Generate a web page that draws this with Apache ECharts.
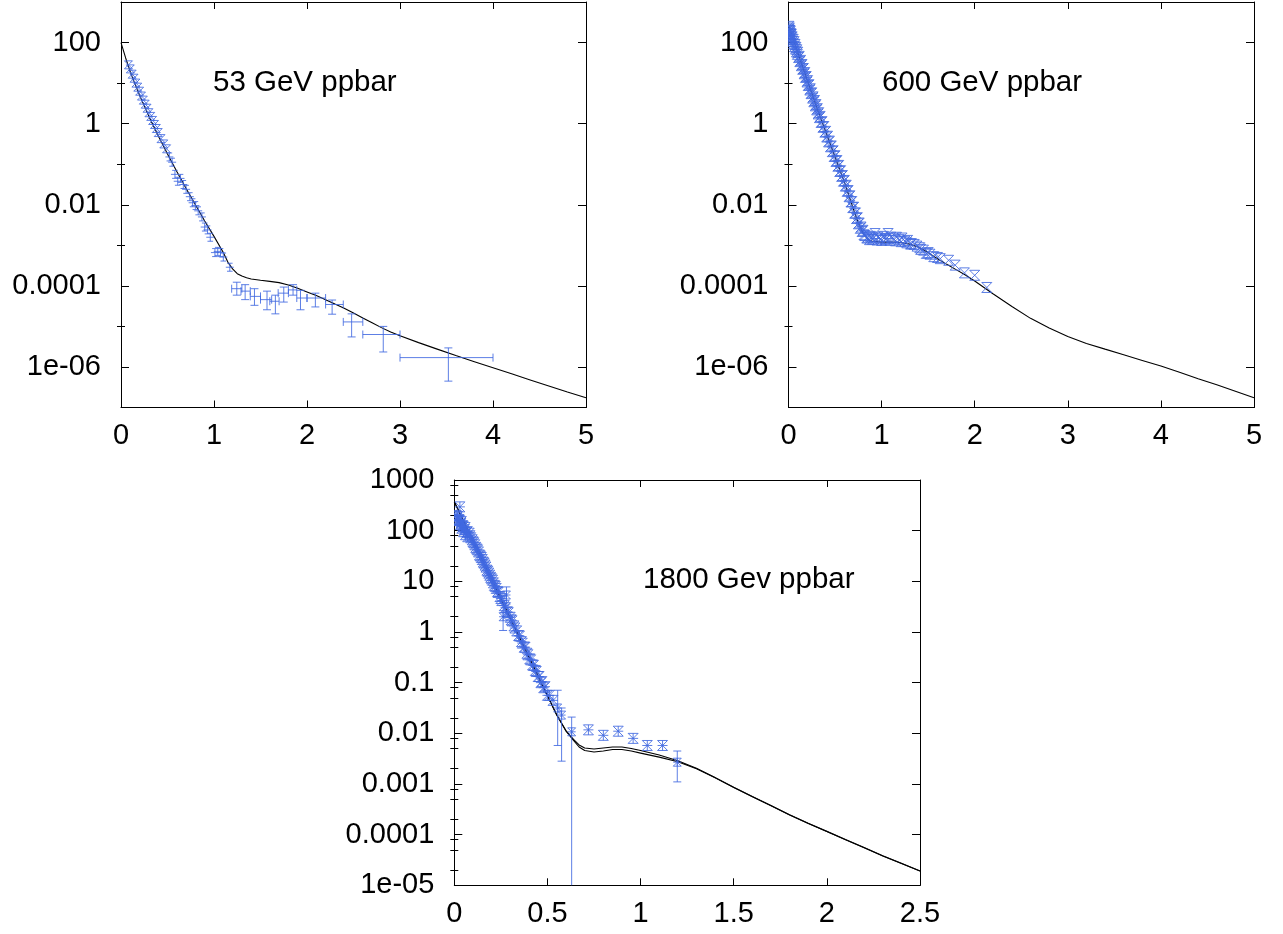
<!DOCTYPE html>
<html><head><meta charset="utf-8">
<script src="https://cdn.jsdelivr.net/npm/echarts@6/dist/echarts.min.js"></script>
<style>html,body{margin:0;padding:0;background:#fff}#c{width:1283px;height:934px}</style>
</head><body><div id="c"></div>
<script>
// ---------- 53 GeV ppbar ----------
const curve53T = [0,0.05,0.1,0.15,0.2,0.3,0.4,0.5,0.6,0.7,0.8,0.9,1.0,1.1,1.15,1.2,1.25,1.3,1.35,1.4,1.5,1.6,1.7,1.8,1.9,2.0,2.1,2.2,2.3,2.4,2.5,2.6,2.7,2.8,2.9,3.0,3.2,3.4,3.6,3.8,4.0,4.2,4.4,4.6,4.8,5.0];
const curve53Y = [100,41.7,19.1,9.55,5.01,1.51,0.501,0.178,0.0661,0.0251,0.01,3.98e-3,1.66e-3,6.61e-4,3.8e-4,2.63e-4,2.0e-4,1.74e-4,1.58e-4,1.48e-4,1.38e-4,1.29e-4,1.2e-4,1.05e-4,8.7e-5,7.08e-5,5.75e-5,4.57e-5,3.55e-5,2.82e-5,2.14e-5,1.62e-5,1.23e-5,9.33e-6,7.24e-6,5.89e-6,3.98e-6,2.75e-6,1.91e-6,1.35e-6,9.55e-7,6.76e-7,4.79e-7,3.39e-7,2.4e-7,1.74e-7];
const pts53aT = [0.08,0.10,0.12,0.14,0.16,0.18,0.20,0.22,0.24,0.26,0.28,0.30,0.32,0.34,0.36,0.38,0.40,0.43,0.46,0.49];
const pts53aY = [28.2,22.4,16.6,13.2,10.0,7.94,6.31,4.79,3.80,3.02,2.40,1.86,1.51,1.20,0.955,0.759,0.603,0.427,0.316,0.24];
const pts53bT = [0.52,0.55,0.58,0.61,0.64,0.67,0.70,0.74,0.77,0.80,0.83,0.87,0.90,0.93,0.96,1.01,1.04,1.07,1.10,1.17];
const pts53bY = [0.151,0.112,0.0562,0.038,0.0447,0.0316,0.024,0.0158,0.0112,0.00955,0.00708,0.00501,0.00282,0.0024,0.00158,0.000661,0.000708,0.000661,0.000513,0.000288];
const tail53T   = [1.245,1.335,1.435,1.57,1.66,1.75,1.85,1.93,2.09,2.27,2.48,2.82,3.52];
const tail53Y   = [8.51e-5,7.41e-5,5.5e-5,4.57e-5,4.17e-5,6.61e-5,7.94e-5,5.01e-5,5.01e-5,3.47e-5,1.29e-5,6.31e-6,1.70e-6];
const tail53Lo  = [5.89e-5,4.57e-5,3.31e-5,2.57e-5,2.04e-5,3.98e-5,5.89e-5,2.57e-5,3.02e-5,2.0e-5,5.5e-6,2.34e-6,4.47e-7];
const tail53Hi  = [1.23e-4,1.07e-4,8.51e-5,7.41e-5,5.89e-5,9.33e-5,1.07e-4,7.76e-5,6.61e-5,4.47e-5,2.04e-5,1.0e-5,2.95e-6];
const tail53TLo = [1.19,1.29,1.39,1.50,1.60,1.69,1.80,1.89,2.00,2.20,2.39,2.60,3.00];
const tail53THi = [1.30,1.39,1.50,1.62,1.70,1.80,1.89,2.00,2.20,2.39,2.60,3.00,4.00];

// ---------- 600 GeV ppbar ----------
const curve600T = [0,0.1,0.2,0.3,0.4,0.5,0.6,0.66,0.7,0.75,0.8,0.85,0.9,1.0,1.1,1.2,1.3,1.4,1.5,1.6,1.7,1.8,1.9,2.0,2.2,2.4,2.6,2.8,3.0,3.2,3.4,3.6,3.8,4.0,4.2,4.4,4.6,4.8,5.0];
const curve600Y = [269,56.2,12.0,2.63,0.631,0.151,0.0363,0.0141,0.00741,0.00355,0.002,0.00141,0.00126,0.0012,0.0012,0.00117,0.00107,0.000891,0.000661,0.000468,0.000339,0.000251,0.000186,0.000132,6.31e-5,3.09e-5,1.58e-5,9.12e-6,5.62e-6,3.8e-6,2.75e-6,2.0e-6,1.45e-6,1.05e-6,7.41e-7,5.13e-7,3.63e-7,2.51e-7,1.74e-7];
const pts600T = [0.005,0.010,0.015,0.020,0.025,0.030,0.040,0.050,0.060,0.070,0.080,0.090,0.100,0.115,0.130,0.145,0.160,0.175,0.190,0.205,0.220,0.235,0.250,0.265,0.280,0.295,0.310,0.325,0.340,0.360,0.380,0.400,0.420,0.440,0.460,0.480,0.500,0.520,0.540,0.560,0.580,0.600,0.620,0.640,0.660,0.680,0.700,0.720,0.740,0.760,0.780,0.800,0.82,0.85,0.88,0.91,0.93,0.96,0.99,1.02,1.05,1.07,1.10,1.13,1.16,1.19,1.22,1.25,1.28,1.32,1.35,1.38,1.42,1.45,1.48,1.52,1.56,1.63,1.72,1.79,1.89,2.00,2.13];
const pts600Y = [251,229,200,191,166,158,138,120,105,89.1,75.9,66.1,57.5,45.7,36.3,28.8,22.9,18.2,14.5,11.5,9.12,7.24,5.75,4.57,3.72,2.95,2.34,1.86,1.51,1.12,0.851,0.646,0.49,0.372,0.282,0.214,0.162,0.123,0.0933,0.0692,0.0525,0.0398,0.0302,0.0224,0.0166,0.012,0.0087,0.0063,0.00479,0.00355,0.00282,0.00234,0.00174,0.00158,0.00166,0.00151,0.00195,0.00158,0.00145,0.00166,0.00148,0.00195,0.00158,0.00145,0.00158,0.00138,0.00151,0.00126,0.00132,0.0011,0.00105,0.000955,0.000794,0.000759,0.000631,0.000603,0.000525,0.000468,0.000427,0.000324,0.000209,0.000182,0.0000912];
const pts600bT = [0.002,0.008,0.012,0.018,0.022,0.028,0.035,0.045,0.055,0.065,0.075,0.085,0.095,0.108,0.122,0.138,0.152,0.168,0.182,0.198,0.212,0.228,0.242,0.258,0.272,0.288,0.302,0.318,0.332,0.35,0.37,0.39,0.41,0.43,0.45,0.47,0.49,0.51,0.53,0.55,0.57,0.59,0.61,0.63,0.65,0.67,0.69,0.71,0.73,0.75,0.77,0.79,0.81,0.84,0.87,0.90,0.95,1.00,1.04,1.09,1.15,1.21,1.27,1.31,1.41,1.50,1.60];
const pts600bY = [214,200,182,162,148,138,123,107,93.3,79.4,69.2,58.9,51.3,42.7,33.9,26.9,21.9,17.0,13.8,10.7,8.71,6.76,5.5,4.27,3.47,2.75,2.19,1.74,1.41,1.07,0.813,0.617,0.468,0.355,0.269,0.204,0.155,0.117,0.0891,0.0661,0.0501,0.038,0.0288,0.0214,0.0158,0.0117,0.0085,0.00617,0.00457,0.00339,0.00263,0.00219,0.00182,0.00151,0.00138,0.00141,0.00135,0.00132,0.00138,0.00132,0.00129,0.00123,0.00115,0.00107,0.000871,0.000661,0.000501];

// ---------- 1800 GeV ppbar ----------
const curve1800T  = [0,0.1,0.2,0.3,0.4,0.5,0.55,0.6,0.64,0.67,0.7,0.75,0.8,0.85,0.9,0.95,1.0,1.1,1.2,1.3,1.4,1.5,1.6,1.7,1.8,1.9,2.0,2.1,2.2,2.3,2.4,2.5];
const curve1800Ya = [372,63.1,11.0,1.86,0.324,0.055,0.0229,0.011,0.00724,0.00537,0.00457,0.00427,0.00447,0.00479,0.00479,0.00447,0.00407,0.00339,0.00275,0.002,0.00132,0.000851,0.000562,0.000372,0.000245,0.000166,0.000115,7.94e-5,5.5e-5,3.8e-5,2.69e-5,1.91e-5];
const curve1800Yb = [372,63.1,11.0,1.86,0.324,0.055,0.0229,0.0112,0.00759,0.00589,0.00513,0.0049,0.00513,0.00537,0.00537,0.00501,0.00457,0.00372,0.00288,0.00204,0.00134,0.000862,0.000568,0.000376,0.000248,0.000168,0.000116,8.0e-5,5.55e-5,3.83e-5,2.71e-5,1.92e-5];
const pts1800T = [0.015,0.020,0.025,0.030,0.032,0.036,0.040,0.045,0.050,0.055,0.060,0.066,0.072,0.080,0.088,0.096,0.105,0.115,0.125,0.135,0.145,0.155,0.165,0.175,0.185,0.195,0.205,0.215,0.225,0.235,0.245,0.255,0.275,0.290,0.300,0.310,0.320,0.335,0.350,0.365,0.380,0.395,0.410,0.425,0.440,0.455,0.470,0.487,0.510,0.530,0.720,0.800,0.880,0.960,1.036,1.118];
const pts1800Y = [178,158,166,295,132,141,112,126,95.5,105,83.2,93.3,75.9,89.1,72.4,66.1,57.5,46.8,41.7,33.1,29.5,24.0,20.9,16.6,14.5,12.0,10.5,8.32,7.24,6.03,5.01,4.17,3.02,2.40,1.95,1.66,1.32,1.05,0.832,0.603,0.501,0.355,0.282,0.219,0.166,0.132,0.105,0.0832,0.0562,0.0447,0.0117,0.00912,0.011,0.00794,0.00575,0.00575];
const pts1800bT = [0.010,0.018,0.028,0.038,0.048,0.058,0.070,0.084,0.100,0.110,0.120,0.130,0.140,0.150,0.160,0.170,0.180,0.190,0.200,0.210,0.220,0.232,0.250,0.268,0.285,0.305,0.325,0.345,0.36,0.375,0.39,0.405,0.42,0.435,0.45,0.465,0.48,0.50];
const pts1800bY = [200,191,158,151,120,115,95.5,79.4,60.3,52.5,43.7,38.0,31.6,26.9,22.9,19.1,15.8,13.2,11.2,9.33,7.94,6.31,4.57,3.31,2.51,1.74,1.2,0.851,0.646,0.501,0.38,0.295,0.224,0.174,0.132,0.1,0.0794,0.0562];
const err1800T  = [0.262,0.280,0.555,0.576,0.630,1.197];
const err1800Y  = [2.0,5.37,0.0316,0.0229,0.0107,0.00269];
const err1800Lo = [1.07,3.55,0.00575,0.00282,1e-7,0.0011];
const err1800Hi = [3.63,7.76,0.0708,0.0316,0.0209,0.00447];

// ---------- tick labels ----------
const yMajor12 = [1e-6,1e-4,1e-2,1,100];
const yLabels12 = ['1e-06','0.0001','0.01','1','100'];
const yMinor12 = [1e-5,1e-3,0.1,10];
const yMajor3 = [1e-5,1e-4,1e-3,1e-2,0.1,1,10,100,1000];
const yLabels3 = ['1e-05','0.0001','0.001','0.01','0.1','1','10','100','1000'];
const yMinorMantissa3 = [2,5,8];
const yMinor3 = [];
for (let k = -5; k < 3; k++) yMinorMantissa3.forEach(m => yMinor3.push(m * Math.pow(10, k)));

const titles = ['53 GeV ppbar', '600 GeV ppbar', '1800 Gev ppbar'];

// ---------- rendering ----------
const BLUE = 'rgba(65,105,225,0.85)';
const FONT = '"Liberation Sans", Arial, sans-serif';
function seg(x1,y1,x2,y2){return {type:'line',shape:{x1,y1,x2,y2},style:{stroke:BLUE,lineWidth:1}};}
function hourglass(x,y,s){return [seg(x-s,y-s,x+s,y+s),seg(x-s,y+s,x+s,y-s),seg(x-s,y-s,x+s,y-s),seg(x-s,y+s,x+s,y+s)];}
function plusCaps(x,y,s){return [seg(x,y-s,x,y+s),seg(x-s,y,x+s,y),seg(x-s*0.7,y-s,x+s*0.7,y-s),seg(x-s*0.7,y+s,x+s*0.7,y+s)];}
function star(x,y,s){return [seg(x-s,y-s,x+s,y+s),seg(x-s,y+s,x+s,y-s),seg(x,y-s,x,y+s),seg(x-s,y,x+s,y),seg(x-s,y-s,x+s,y-s),seg(x-s,y+s,x+s,y+s)];}

function markerSeries(gi, T, Y, fn, s){
  return {type:'custom', xAxisIndex:2*gi, yAxisIndex:4*gi, clip:true, z:5,
    data: T.map((t,i)=>[t,Y[i]]),
    renderItem:(p,api)=>{const c=api.coord([api.value(0),api.value(1)]);return {type:'group',children:fn(c[0],c[1],s)};}};
}
function errSeries(gi, T, Y, Lo, Hi, TLo, THi, fn){
  return {type:'custom', xAxisIndex:2*gi, yAxisIndex:4*gi, clip:true, z:5,
    data: T.map((t,i)=>[t,Y[i],Lo[i],Hi[i],TLo?TLo[i]:t,THi?THi[i]:t]),
    renderItem:(p,api)=>{
      const c=api.coord([api.value(0),api.value(1)]);
      const lo=api.coord([api.value(0),api.value(2)]);
      const hi=api.coord([api.value(0),api.value(3)]);
      const l=api.coord([api.value(4),api.value(1)]);
      const r=api.coord([api.value(5),api.value(1)]);
      const ch=[seg(c[0],lo[1],c[0],hi[1]),seg(c[0]-4,lo[1],c[0]+4,lo[1]),seg(c[0]-4,hi[1],c[0]+4,hi[1])];
      if (r[0]-l[0]>1){ch.push(seg(l[0],c[1],r[0],c[1]),seg(l[0],c[1]-4,l[0],c[1]+4),seg(r[0],c[1]-4,r[0],c[1]+4));}
      if (fn) ch.push(...fn(c[0],c[1],4));
      return {type:'group',children:ch};
    }};
}
function lineSeries(gi, T, Y){
  return {type:'line', xAxisIndex:2*gi, yAxisIndex:4*gi, showSymbol:false, smooth:false, z:3,
    lineStyle:{color:'#000',width:1.1}, data:T.map((t,i)=>[t,Y[i]])};
}

const grids = [
  {left:121, top:2, width:465, height:405.5},
  {left:788.5, top:2, width:465.5, height:405.5},
  {left:454.3, top:480, width:465.7, height:405.3}
];
const lineStyle = {color:'#000', width:1};
function xAxes(gi, max, interval){
  const base = {gridIndex:gi, type:'value', min:0, max, interval, splitLine:{show:false},
    axisLine:{onZero:false, lineStyle}, axisTick:{inside:true, length:7, lineStyle}};
  return [
    Object.assign({}, base, {position:'bottom', axisLabel:{color:'#000', fontSize:29, fontFamily:FONT, margin:14}}),
    Object.assign({}, base, {position:'top', axisLabel:{show:false}})
  ];
}
function yAxes(gi, min, max, major, labels, minor){
  const fmt = v => { const k = Math.round(Math.log10(v)); const i = major.findIndex(m => Math.round(Math.log10(m)) === k); return i >= 0 ? labels[i] : ''; };
  const base = {gridIndex:gi, type:'log', logBase:10, min, max, splitLine:{show:false}, axisLine:{onZero:false, lineStyle}};
  return [
    Object.assign({}, base, {position:'left', axisTick:{inside:true, length:8, customValues:major, lineStyle},
      axisLabel:{customValues:major, formatter:fmt, color:'#000', fontSize:29, fontFamily:FONT, margin:20}}),
    Object.assign({}, base, {position:'left', axisLine:{show:false}, axisTick:{inside:true, length:4, customValues:minor, lineStyle}, axisLabel:{show:false}}),
    Object.assign({}, base, {position:'right', axisTick:{inside:true, length:8, customValues:major, lineStyle}, axisLabel:{show:false}}),
    Object.assign({}, base, {position:'right', axisLine:{show:false}, axisTick:{inside:true, length:4, customValues:minor, lineStyle}, axisLabel:{show:false}})
  ];
}

const option = {
  animation:false,
  backgroundColor:'#fff',
  grid: grids,
  xAxis: [].concat(xAxes(0,5,1), xAxes(1,5,1), xAxes(2,2.5,0.5)),
  yAxis: [].concat(yAxes(0,1e-7,1e3,yMajor12,yLabels12,yMinor12), yAxes(1,1e-7,1e3,yMajor12,yLabels12,yMinor12), yAxes(2,1e-5,1e3,yMajor3,yLabels3,yMinor3)),
  graphic: [
    {type:'text', x:213, y:83, style:{text:titles[0], font:'29.5px '+FONT, fill:'#000', verticalAlign:'middle'}},
    {type:'text', x:882, y:83, style:{text:titles[1], font:'29.5px '+FONT, fill:'#000', verticalAlign:'middle'}},
    {type:'text', x:643, y:580, style:{text:titles[2], font:'29.5px '+FONT, fill:'#000', verticalAlign:'middle'}}
  ],
  series: [
    lineSeries(0, curve53T, curve53Y),
    markerSeries(0, pts53aT, pts53aY, hourglass, 4),
    markerSeries(0, pts53bT, pts53bY, plusCaps, 4),
    errSeries(0, tail53T, tail53Y, tail53Lo, tail53Hi, tail53TLo, tail53THi, null),
    lineSeries(1, curve600T, curve600Y),
    markerSeries(1, pts600T, pts600Y, hourglass, 5),
    markerSeries(1, pts600bT, pts600bY, hourglass, 5),
    lineSeries(2, curve1800T, curve1800Ya),
    lineSeries(2, curve1800T, curve1800Yb),
    markerSeries(2, pts1800T, pts1800Y, star, 5),
    markerSeries(2, pts1800bT, pts1800bY, star, 5),
    errSeries(2, err1800T, err1800Y, err1800Lo, err1800Hi, null, null, star)
  ]
};
const chart = echarts.init(document.getElementById('c'), null, {renderer:'canvas'});
chart.setOption(option);
</script></body></html>
